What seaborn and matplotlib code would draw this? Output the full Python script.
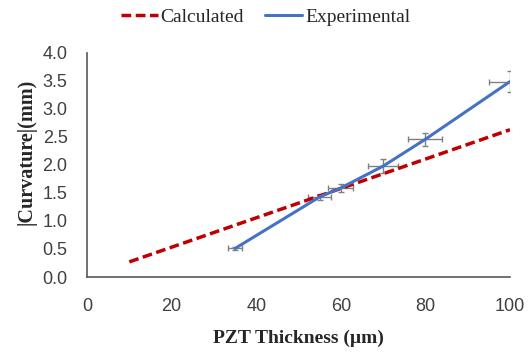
import matplotlib
matplotlib.use("Agg")
import matplotlib.pyplot as plt
import seaborn as sns
import pandas as pd

# Data
exp_thickness = [35, 55, 60, 70, 80, 100]
exp_curvature = [0.51, 1.43, 1.59, 1.98, 2.46, 3.49]
exp_xerr = [1.75, 2.75, 3.0, 3.5, 4.0, 5.0]
exp_yerr = [0.03, 0.05, 0.07, 0.12, 0.12, 0.18]
calc_thickness = [10, 100]
calc_curvature = [0.27, 2.63]
x_ticks = [0, 20, 40, 60, 80, 100]
y_ticks = [0.0, 0.5, 1.0, 1.5, 2.0, 2.5, 3.0, 3.5, 4.0]

sns.set_style("white")
plt.rcParams['font.family'] = ['Liberation Sans', 'DejaVu Sans']

fig = plt.figure(figsize=(5.31, 3.54), dpi=100)
ax = fig.add_axes([87 / 531, 1 - 277 / 354, 423 / 531, 224 / 354])

df_exp = pd.DataFrame({"x": exp_thickness, "y": exp_curvature})
df_calc = pd.DataFrame({"x": calc_thickness, "y": calc_curvature})

ax.errorbar(exp_thickness, exp_curvature, xerr=exp_xerr, yerr=exp_yerr,
            fmt='none', ecolor='#808080', elinewidth=1, capsize=2.5, capthick=1, zorder=2)
sns.lineplot(data=df_calc, x="x", y="y", ax=ax, color='#C00000', lw=2.5,
             linestyle=(0, (2.8, 1.3)), label='Calculated', zorder=3)
sns.lineplot(data=df_exp, x="x", y="y", ax=ax, color='#4472C4', lw=2.2,
             label='Experimental', zorder=4)

ax.set_xlim(0, 100)
ax.set_ylim(0, 4.0)
ax.set_xticks(x_ticks)
ax.set_yticks(y_ticks)
ax.set_yticklabels([f"{v:.1f}" for v in y_ticks])
ax.tick_params(direction='in', length=4, width=1, color='#595959', labelsize=13,
               labelcolor='#404040')
ax.tick_params(axis='y', pad=14)
ax.tick_params(axis='x', pad=15)
for s in ['top', 'right']:
    ax.spines[s].set_visible(False)
for s in ['left', 'bottom']:
    ax.spines[s].set_color('#595959')
    ax.spines[s].set_linewidth(1.2)

ax.set_xlabel("PZT Thickness (µm)", fontfamily='Liberation Serif', fontweight='bold',
              fontsize=14, color='#262626')
ax.xaxis.set_label_coords(0.499, -0.237)
ax.set_ylabel("|Curvature|(mm)", fontfamily='Liberation Serif', fontweight='bold',
              fontsize=14.5, color='#262626')
ax.yaxis.set_label_coords(-0.12, 0.558)

leg = ax.legend(loc='center', bbox_to_anchor=(0.422, 1.16), ncol=2, frameon=False,
                prop={'family': 'Liberation Serif', 'size': 14}, handlelength=1.9,
                handletextpad=0.15, columnspacing=1.1)
for t in leg.get_texts():
    t.set_color('#262626')

fig.savefig("out.png", dpi=100)
